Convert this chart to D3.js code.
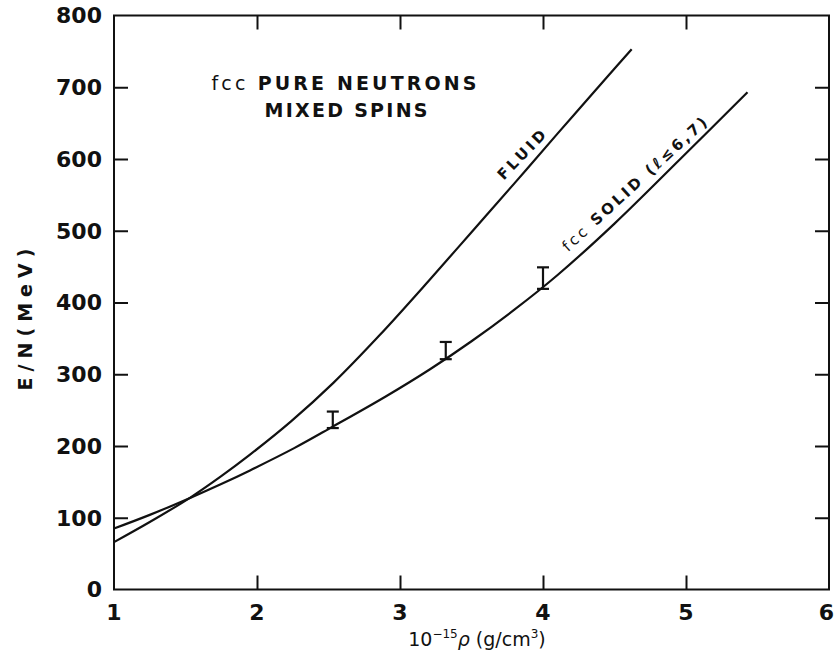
<!DOCTYPE html>
<html>
<head>
<meta charset="utf-8">
<script src="https://cdn.jsdelivr.net/npm/d3@7"></script>
<style>
  html, body { margin: 0; padding: 0; background: #fff; }
  svg { display: block; }
  text { fill: #111; font-family: "DejaVu Sans", sans-serif; }
</style>
</head>
<body>
<svg id="chart" width="835" height="657"></svg>
<script>
// Density axis (10^15 g/cm^3) and energy per neutron (MeV)
const xTicks = [1, 2, 3, 4, 5, 6];
const yTicks = [0, 100, 200, 300, 400, 500, 600, 700, 800];

// Fluid phase energy curve
const fluidRho = [1.0, 1.25, 1.536, 1.75, 1.951, 2.236, 2.534, 2.86, 3.2, 3.5, 3.8, 4.1, 4.43, 4.62];
const fluidE   = [66, 94, 128.5, 158, 188, 234, 288, 355, 430, 498, 566, 635, 710, 753];

// fcc solid energy curve
const solidRho = [1.0, 1.25, 1.536, 1.75, 1.951, 2.26, 2.53, 2.9, 3.21, 3.5, 3.8, 4.1, 4.5, 4.96, 5.43];
const solidE   = [85, 104, 128, 147, 166, 197, 227, 269, 307, 346, 390, 438, 510, 600, 693];

// Error bars on the solid curve
const errRho = [2.53, 3.32, 4.0];
const errLo  = [225, 321, 419];
const errHi  = [248, 345, 449];

const svg = d3.select("#chart");
const x = d3.scaleLinear().domain([1, 6]).range([114, 829]);
const y = d3.scaleLinear().domain([0, 800]).range([589.5, 15.5]);

const stroke = "#111";

// Inner tick marks on all four sides
const innerX = xTicks.filter(v => v > 1 && v < 6);
const innerY = yTicks.filter(v => v > 0 && v < 800);

svg.append("g").attr("transform", `translate(0,${y(0)})`)
  .call(d3.axisBottom(x).tickValues(innerX).tickSizeInner(-14).tickSizeOuter(0).tickFormat(""))
  .call(g => g.select(".domain").remove());
svg.append("g").attr("transform", `translate(0,${y(800)})`)
  .call(d3.axisTop(x).tickValues(innerX).tickSizeInner(-14).tickSizeOuter(0).tickFormat(""))
  .call(g => g.select(".domain").remove());
svg.append("g").attr("transform", `translate(${x(1)},0)`)
  .call(d3.axisLeft(y).tickValues(innerY).tickSizeInner(-14).tickSizeOuter(0).tickFormat(""))
  .call(g => g.select(".domain").remove());
svg.append("g").attr("transform", `translate(${x(6)},0)`)
  .call(d3.axisRight(y).tickValues(innerY).tickSizeInner(-14).tickSizeOuter(0).tickFormat(""))
  .call(g => g.select(".domain").remove());
svg.selectAll(".tick line").attr("stroke", stroke).attr("stroke-width", 2);

// Frame
svg.append("rect")
  .attr("x", x(1)).attr("y", y(800))
  .attr("width", x(6) - x(1)).attr("height", y(0) - y(800))
  .attr("fill", "none").attr("stroke", stroke).attr("stroke-width", 2);

// Tick labels
svg.append("g").selectAll("text").data(yTicks).join("text")
  .attr("x", x(1) - 12).attr("y", d => y(d)).attr("dy", "0.36em")
  .attr("text-anchor", "end")
  .style("font-size", "22px").style("font-weight", "bold")
  .text(d => d);
svg.append("g").selectAll("text").data(xTicks).join("text")
  .attr("x", d => d === 6 ? 834 : x(d)).attr("y", 620)
  .attr("text-anchor", d => d === 6 ? "end" : "middle")
  .style("font-size", "22px").style("font-weight", "bold")
  .text(d => d);

// Axis titles
svg.append("text")
  .attr("transform", `translate(32,${(y(0) + y(800)) / 2 + 17}) rotate(-90)`)
  .attr("text-anchor", "middle")
  .attr("textLength", 142).attr("lengthAdjust", "spacing")
  .style("font-size", "19px").style("font-weight", "bold")
  .text("E/N(MeV)");

const xl = svg.append("text")
  .attr("x", 477).attr("y", 646)
  .attr("text-anchor", "middle")
  .style("font-size", "19px");
xl.append("tspan").text("10");
xl.append("tspan").attr("dy", -8).style("font-size", "12px").text("−15");
xl.append("tspan").attr("dy", 8).style("font-style", "italic").text("ρ");
xl.append("tspan").text(" (g/cm");
xl.append("tspan").attr("dy", -8).style("font-size", "12px").text("3");
xl.append("tspan").attr("dy", 8).text(")");

// Curves
const line = d3.line().x(d => x(d[0])).y(d => y(d[1])).curve(d3.curveCatmullRom.alpha(0.5));
svg.append("path")
  .datum(fluidRho.map((r, i) => [r, fluidE[i]]))
  .attr("d", line).attr("fill", "none").attr("stroke", stroke).attr("stroke-width", 2.2);
svg.append("path")
  .datum(solidRho.map((r, i) => [r, solidE[i]]))
  .attr("d", line).attr("fill", "none").attr("stroke", stroke).attr("stroke-width", 2.2);

// Error bars
const eb = svg.append("g").selectAll("g").data(errRho).join("g");
eb.append("line")
  .attr("x1", d => x(d)).attr("x2", d => x(d))
  .attr("y1", (d, i) => y(errLo[i])).attr("y2", (d, i) => y(errHi[i]))
  .attr("stroke", stroke).attr("stroke-width", 2.2);
eb.append("line")
  .attr("x1", d => x(d) - 6).attr("x2", d => x(d) + 6)
  .attr("y1", (d, i) => y(errLo[i])).attr("y2", (d, i) => y(errLo[i]))
  .attr("stroke", stroke).attr("stroke-width", 2.2);
eb.append("line")
  .attr("x1", d => x(d) - 6).attr("x2", d => x(d) + 6)
  .attr("y1", (d, i) => y(errHi[i])).attr("y2", (d, i) => y(errHi[i]))
  .attr("stroke", stroke).attr("stroke-width", 2.2);

// Title block
svg.append("text")
  .attr("x", 344).attr("y", 90).attr("text-anchor", "middle")
  .attr("textLength", 265).attr("lengthAdjust", "spacing")
  .style("font-size", "19px").style("font-weight", "bold")
  .call(t => {
    t.append("tspan").style("font-weight", "normal").text("fcc ");
    t.append("tspan").text(" PURE NEUTRONS");
  });
svg.append("text")
  .attr("x", 346).attr("y", 117).attr("text-anchor", "middle")
  .attr("textLength", 163).attr("lengthAdjust", "spacing")
  .style("font-size", "19px").style("font-weight", "bold")
  .text("MIXED SPINS");

// Curve labels
svg.append("text")
  .attr("transform", `translate(${x(3.85)},${y(606)}) rotate(-46)`)
  .attr("text-anchor", "middle").attr("dy", "0.35em")
  .attr("textLength", 62).attr("lengthAdjust", "spacing")
  .style("font-size", "15px").style("font-weight", "bold")
  .text("FLUID");
svg.append("text")
  .attr("transform", `translate(${x(4.64)},${y(565)}) rotate(-42.5)`)
  .attr("text-anchor", "middle").attr("dy", "0.35em")
  .attr("textLength", 190).attr("lengthAdjust", "spacing")
  .style("font-size", "15px").style("font-weight", "bold")
  .call(t => {
    t.append("tspan").style("font-weight", "normal").text("fcc ");
    t.append("tspan").text("SOLID (ℓ≤6,7)");
  });
</script>
</body>
</html>
